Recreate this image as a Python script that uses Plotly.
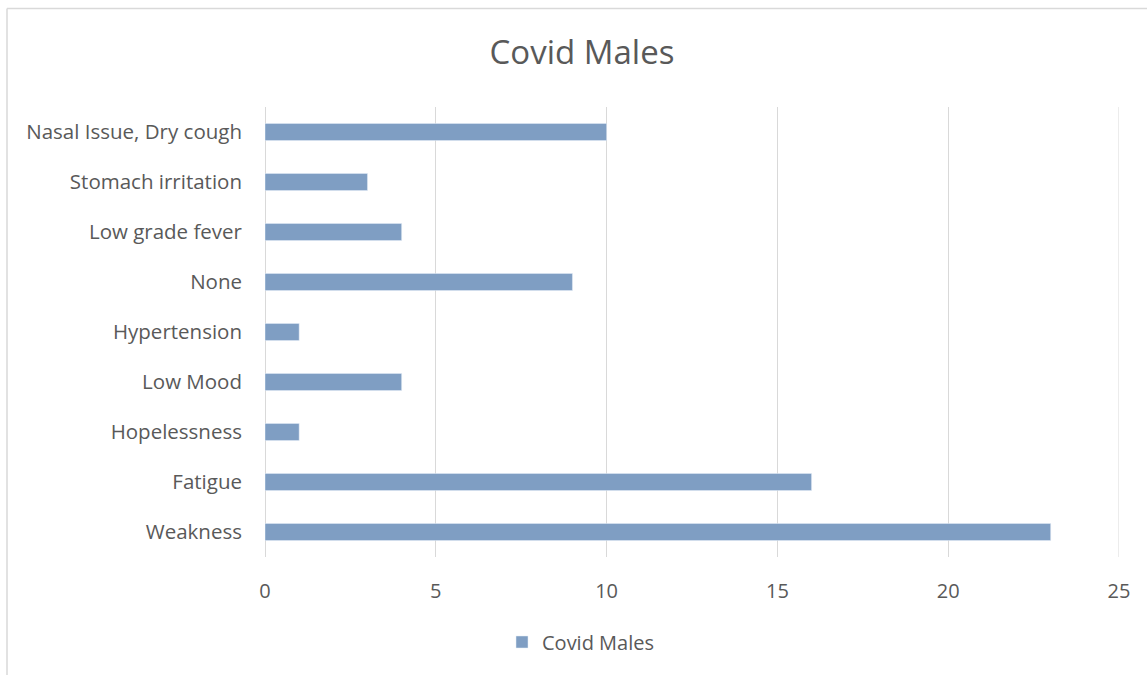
import plotly.graph_objects as go

categories = ["Weakness", "Fatigue", "Hopelessness", "Low Mood", "Hypertension",
              "None", "Low grade fever", "Stomach irritation", "Nasal Issue, Dry cough"]
values = [23, 16, 1, 4, 1, 9, 4, 3, 10]
series_name = "Covid Males"
x_ticks = [0, 5, 10, 15, 20, 25]

W, H = 1147, 675
L, R, T, B = 265, 28, 107, 118
pw, ph = W - L - R, H - T - B

fig = go.Figure()
fig.add_trace(go.Bar(
    x=values, y=categories, orientation="h", name=series_name,
    marker=dict(color="#7F9EC3"), width=0.34, showlegend=True,
))

font = "Open Sans, Liberation Sans, sans-serif"
grid = "#d9d9d9"
fig.update_layout(
    width=W, height=H,
    margin=dict(l=L, r=R, t=T, b=B),
    paper_bgcolor="white", plot_bgcolor="white",
    title=dict(text="Covid Males", x=582 / W, xanchor="center", xref="container",
               y=1 - 52 / H, yanchor="middle", yref="container",
               font=dict(family=font, size=33, color="#595959")),
    font=dict(family=font, color="#595959", size=20),
    xaxis=dict(range=[x_ticks[0], x_ticks[-1]], tickvals=x_ticks, showgrid=True,
               gridcolor=grid, gridwidth=1, zeroline=True, zerolinecolor=grid,
               zerolinewidth=1, showline=False, ticks="", ticklabelstandoff=20,
               tickfont=dict(size=20, color="#595959")),
    yaxis=dict(type="category", showgrid=False, zeroline=False, showline=False,
               ticks="", ticklabelstandoff=22,
               tickfont=dict(size=20.5, color="#595959")),
    legend=dict(orientation="h", x=502 / W, xanchor="left", xref="container",
                y=1 - 642 / H, yanchor="middle", yref="container",
                font=dict(size=20, color="#595959"), itemwidth=30),
    shapes=[
        dict(type="line", xref="x", yref="paper", layer="below",
             x0=x_ticks[-1], x1=x_ticks[-1], y0=0, y1=1,
             line=dict(color=grid, width=1)),
        dict(type="line", xref="paper", yref="paper",
             x0=(7 - L) / pw, x1=(W + 5 - L) / pw,
             y0=1 + (T - 8.5) / ph, y1=1 + (T - 8.5) / ph,
             line=dict(color=grid, width=1.5)),
        dict(type="line", xref="paper", yref="paper",
             x0=(7 - L) / pw, x1=(7 - L) / pw,
             y0=1 + (T - 8.5) / ph, y1=-(B + 5) / ph,
             line=dict(color=grid, width=1.5)),
    ],
)
fig.write_html("out.html")
